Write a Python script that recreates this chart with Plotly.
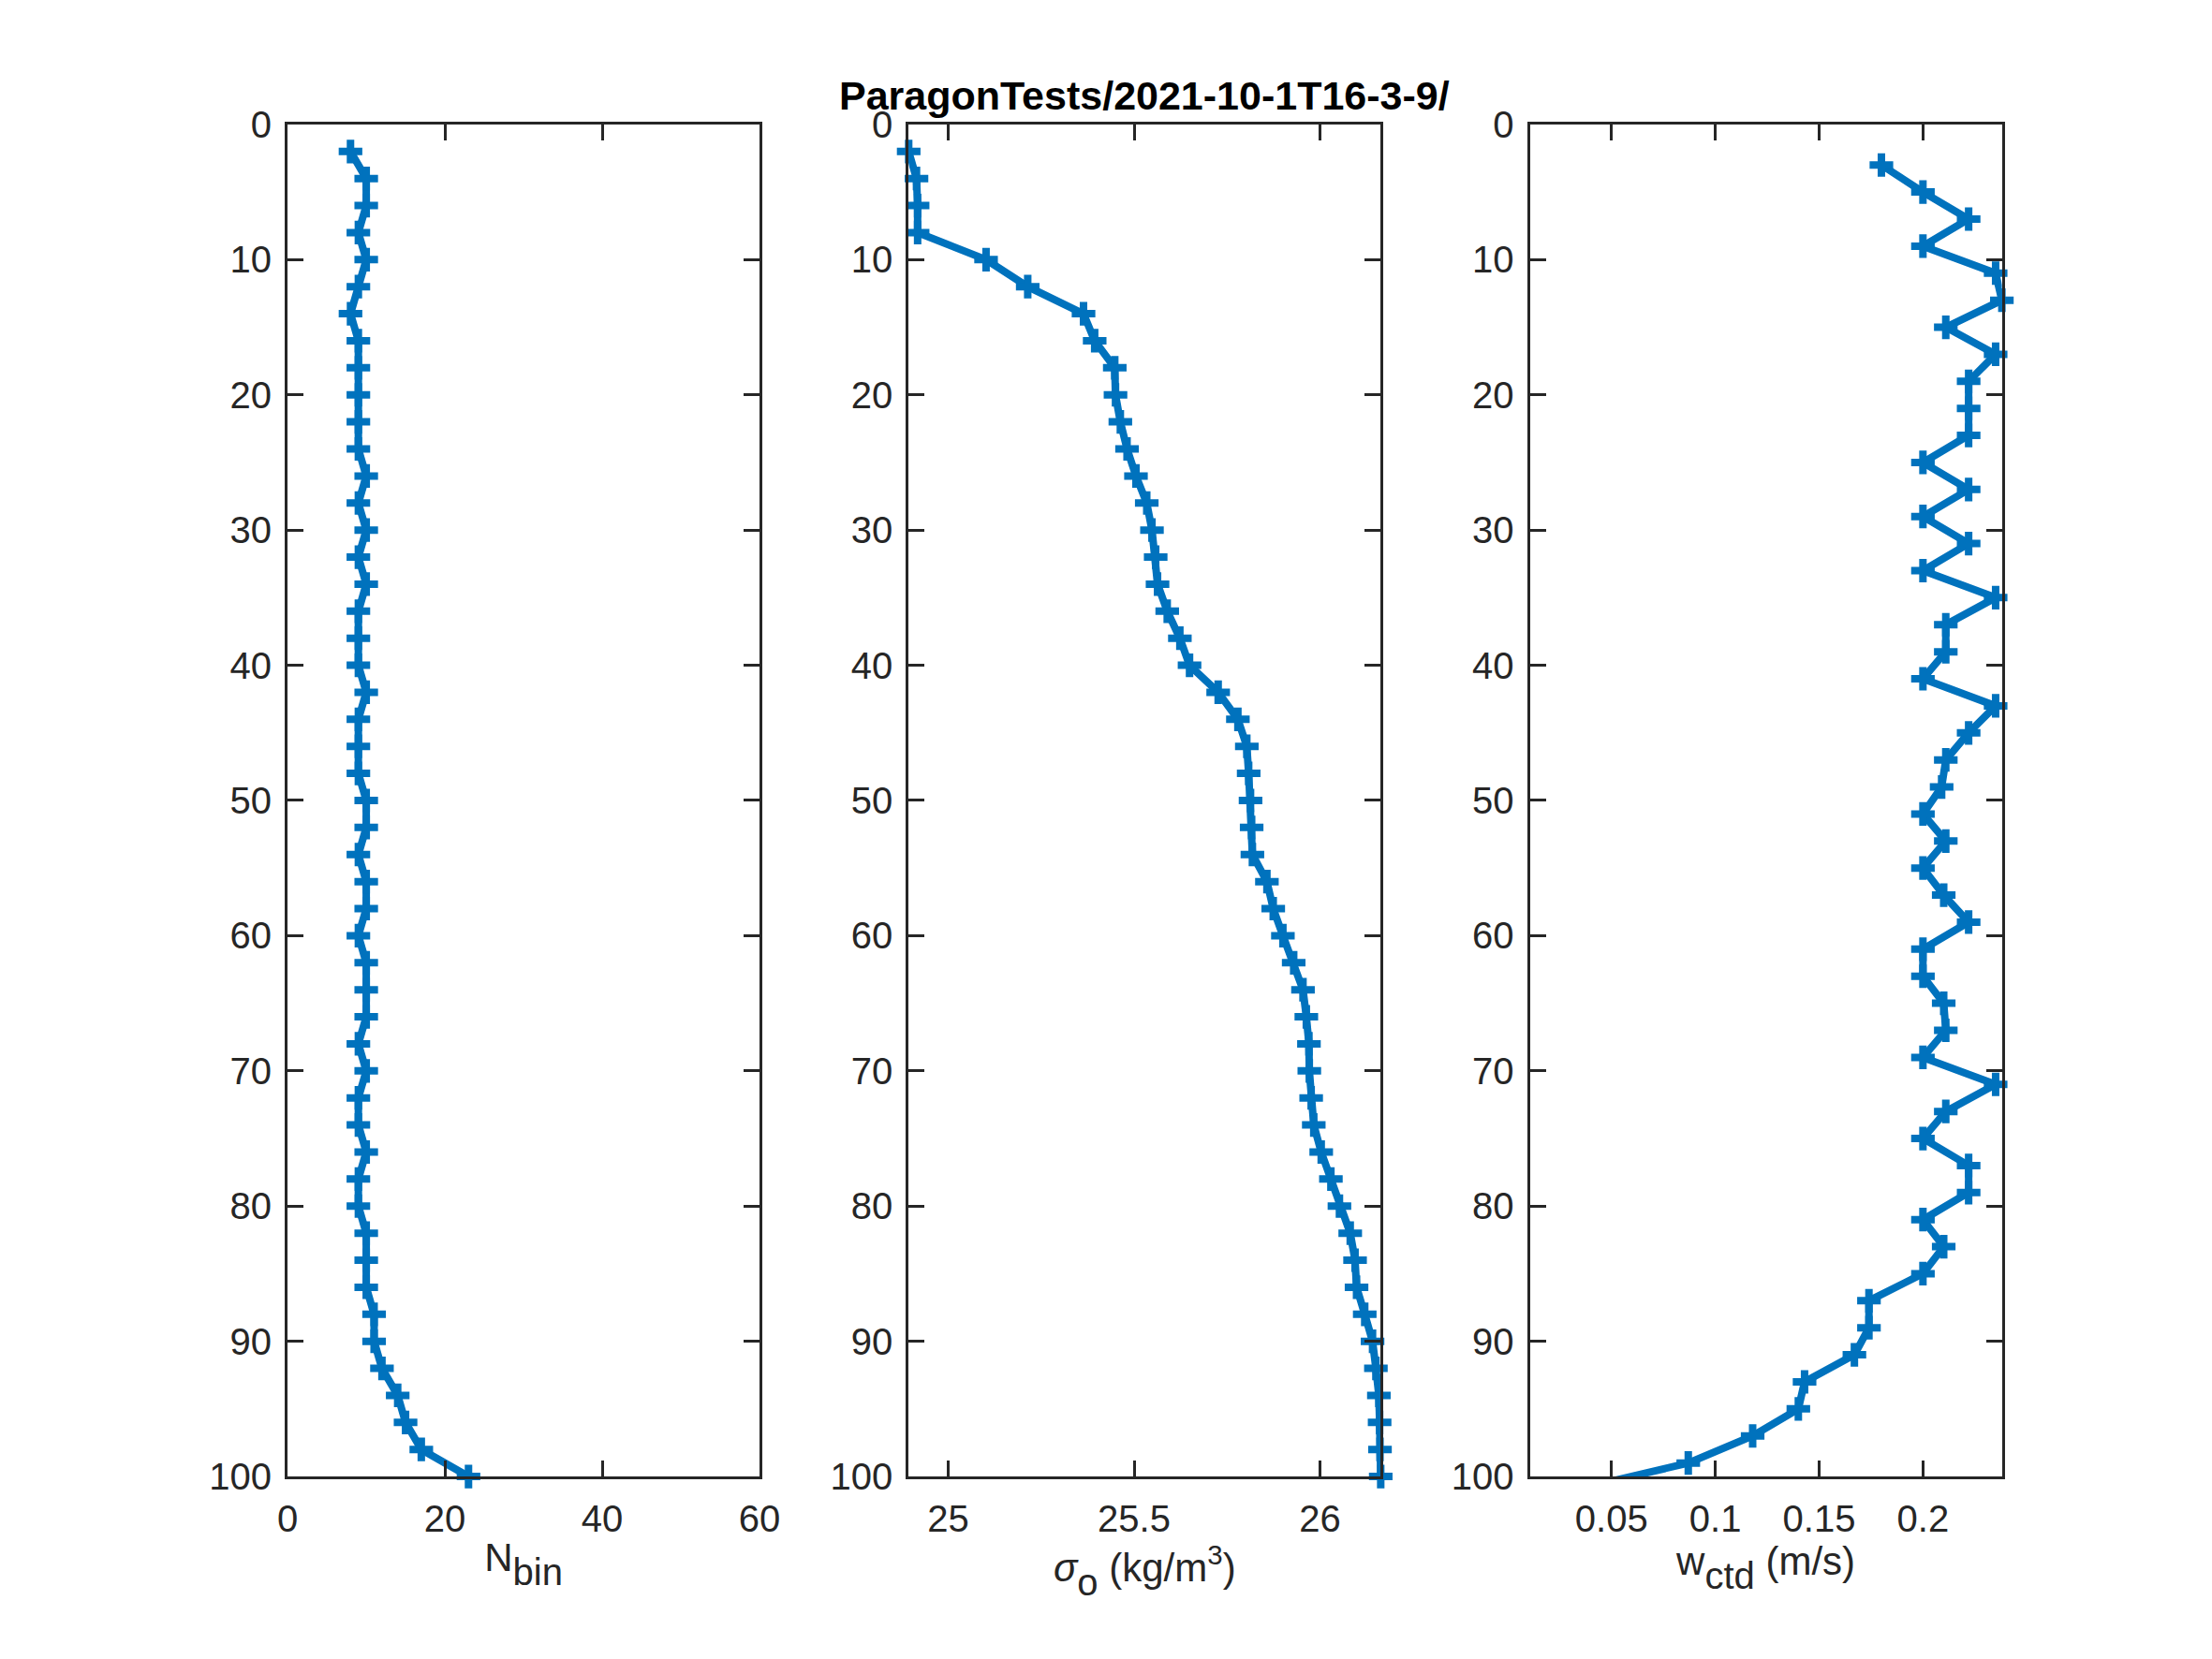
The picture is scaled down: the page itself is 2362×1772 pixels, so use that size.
import numpy as np
import plotly.graph_objects as go
from plotly.subplots import make_subplots

# bin depths (m)
depth_bin = np.arange(2, 101, 2)
depth_w = np.append(np.arange(3, 100, 2), 101)

# number of samples per bin
n_bin = [8, 10, 10, 9, 10, 9, 8, 9, 9, 9, 9, 9, 10, 9, 10, 9, 10, 9, 9, 9,
         10, 9, 9, 9, 10, 10, 9, 10, 10, 9, 10, 10, 10, 9, 10, 9, 9, 10, 9, 9,
         10, 10, 10, 11, 11, 12, 14, 15, 17, 23]

# potential density anomaly (kg/m3)
sigma = [24.894, 24.915, 24.918, 24.918, 25.102, 25.214, 25.364, 25.394, 25.448, 25.450,
         25.463, 25.481, 25.505, 25.534, 25.548, 25.558, 25.563, 25.589, 25.623, 25.649,
         25.726, 25.779, 25.803, 25.808, 25.813, 25.816, 25.818, 25.857, 25.874, 25.900,
         25.929, 25.954, 25.963, 25.970, 25.971, 25.976, 25.983, 26.003, 26.029, 26.052,
         26.081, 26.094, 26.098, 26.120, 26.141, 26.150, 26.158, 26.160, 26.161, 26.163]

# CTD fall speed (m/s)
w_ctd = [0.180, 0.200, 0.222, 0.200, 0.235, 0.238, 0.211, 0.235, 0.222, 0.222,
         0.222, 0.200, 0.222, 0.200, 0.222, 0.200, 0.235, 0.211, 0.211, 0.200,
         0.235, 0.222, 0.211, 0.209, 0.200, 0.211, 0.200, 0.210, 0.222, 0.200,
         0.200, 0.210, 0.211, 0.200, 0.235, 0.211, 0.200, 0.222, 0.222, 0.200,
         0.210, 0.200, 0.174, 0.174, 0.167, 0.143, 0.140, 0.118, 0.087, 0.032]

title = "ParagonTests/2021-10-1T16-3-9/"
blue = "#0072BD"
axcol = "#262626"
font = "Liberation Sans, Arial, Helvetica, sans-serif"

# the page body has an 8px margin, so pull the axes back by that much
dx = 8 / 2362
dy = 8 / 1772

fig = make_subplots(rows=1, cols=3)

line = dict(color=blue, width=8)
marker = dict(symbol="cross-thin", size=18, line=dict(color=blue, width=8))

fig.add_trace(go.Scatter(x=n_bin, y=depth_bin, mode="lines+markers", line=line,
                         marker=marker, cliponaxis=False), row=1, col=1)
fig.add_trace(go.Scatter(x=sigma, y=depth_bin, mode="lines+markers", line=line,
                         marker=marker, cliponaxis=False), row=1, col=2)

# line runs through the clipped last bin; markers only inside the depth range
w_arr = np.array(w_ctd)
inside = depth_w <= 100
fig.add_trace(go.Scatter(x=w_arr, y=depth_w, mode="lines", line=line), row=1, col=3)
fig.add_trace(go.Scatter(x=w_arr[inside], y=depth_w[inside], mode="markers",
                         marker=marker, cliponaxis=False), row=1, col=3)

axis_style = dict(showline=True, linecolor=axcol, linewidth=3, mirror="ticks",
                  ticks="inside", ticklen=17, tickwidth=3, tickcolor=axcol,
                  showgrid=False, zeroline=False, automargin=False,
                  tickfont=dict(family=font, size=40, color=axcol))

x_domains = [[0.13 - dx, 0.3434 - dx], [0.4108 - dx, 0.6242 - dx], [0.6916 - dx, 0.905 - dx]]
y_domain = [0.11 + dy, 0.925 + dy]
x_ranges = [[0, 60], [24.894, 26.163], [0.0107, 0.238]]
x_ticks = [[0, 20, 40, 60], [25, 25.5, 26], [0.05, 0.1, 0.15, 0.2]]
x_labels = [[str(v) for v in t] for t in x_ticks]
# full-size subscripts pushed further down, MATLAB style
sub = "<sub><sub><span style='font-size:40px'>%s</span></sub></sub>"
x_titles = ["N" + sub % "bin",
            "<i>σ</i>" + sub % "o" + " (kg/m<sup>3</sup>)",
            "w" + sub % "ctd" + " (m/s)"]

for i in range(3):
    fig.update_xaxes(axis_style, domain=x_domains[i], range=x_ranges[i],
                     tickvals=x_ticks[i], ticktext=x_labels[i],
                     ticklabelstandoff=8,
                     title=dict(text=x_titles[i], standoff=6,
                                font=dict(family=font, size=42, color=axcol)),
                     row=1, col=i + 1)
    fig.update_yaxes(axis_style, domain=y_domain, range=[100, 0],
                     tickvals=list(range(0, 101, 10)), ticklabelstandoff=6,
                     row=1, col=i + 1)

fig.add_annotation(text="<b>" + title + "</b>", xref="paper", yref="paper",
                   x=sum(x_domains[1]) / 2, y=0.928 + dy, xanchor="center", yanchor="bottom",
                   showarrow=False, font=dict(family=font, size=43, color="black"))

fig.update_layout(width=2362, height=1772, showlegend=False,
                  margin=dict(l=0, r=0, t=0, b=0),
                  plot_bgcolor="white", paper_bgcolor="white")

fig.write_html("out.html")
